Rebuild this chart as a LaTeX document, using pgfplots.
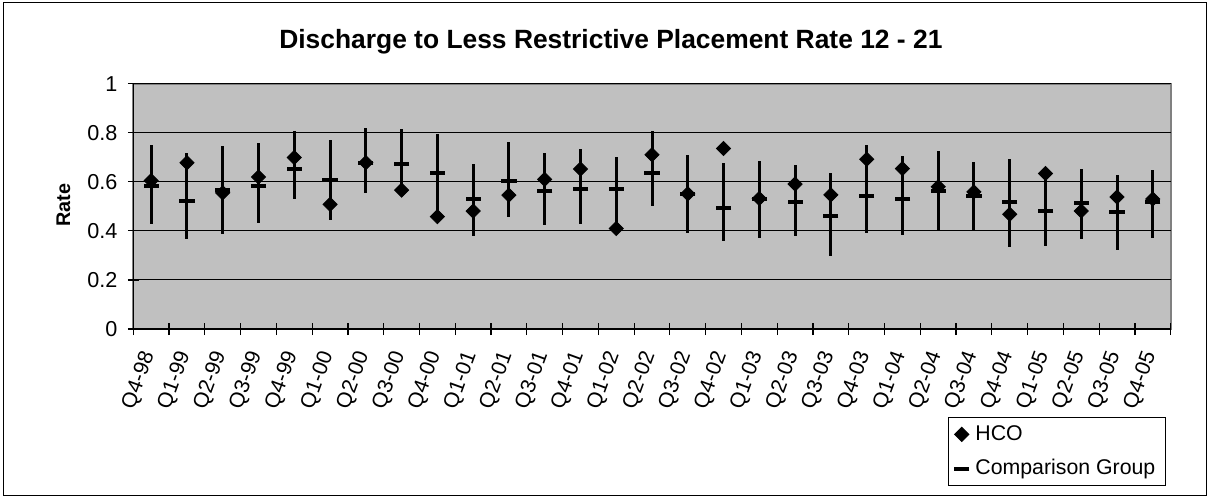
\documentclass[border=0pt]{standalone}
\usepackage{pgfplots}
\pgfplotsset{compat=1.18}
\usepackage{pgfplotstable}
\usepackage{fontspec}
\setmainfont{Liberation Sans}
\definecolor{plotbg}{RGB}{192,192,192}
\definecolor{borderg}{RGB}{128,128,128}
\pgfplotsset{onemark legend/.style={legend image code/.code={\draw[##1] plot coordinates {(3.75pt,0pt)};}}}

\pgfplotstableread{
i hco comp lo hi
0 0.605 0.585 0.430 0.749
1 0.678 0.523 0.367 0.718
2 0.555 0.565 0.386 0.747
3 0.620 0.585 0.433 0.759
4 0.699 0.654 0.532 0.808
5 0.508 0.608 0.444 0.771
6 0.678 0.678 0.553 0.820
7 0.566 0.672 0.550 0.817
8 0.458 0.635 0.460 0.794
9 0.481 0.528 0.379 0.672
10 0.546 0.604 0.455 0.762
11 0.610 0.563 0.422 0.717
12 0.652 0.569 0.429 0.732
13 0.410 0.572 0.420 0.703
14 0.710 0.635 0.501 0.809
15 0.551 0.551 0.390 0.711
16 0.736 0.492 0.358 0.678
17 0.532 0.530 0.369 0.684
18 0.591 0.517 0.380 0.668
19 0.547 0.462 0.297 0.634
20 0.692 0.544 0.390 0.752
21 0.654 0.528 0.382 0.707
22 0.580 0.562 0.403 0.725
23 0.559 0.542 0.401 0.682
24 0.468 0.517 0.335 0.691
25 0.634 0.481 0.339 0.625
26 0.481 0.515 0.368 0.654
27 0.538 0.475 0.323 0.629
28 0.530 0.516 0.369 0.648
}\data

\begin{document}
\begin{tikzpicture}
\path[use as bounding box] (0pt,0pt) rectangle (604.5pt,249pt);
\draw[line width=0.5pt, black] (1.5pt,1.5pt) rectangle (603pt,247.5pt);
\node[font=\fontsize{13.2}{15}\selectfont\bfseries, anchor=base] at (305.45pt,224.85pt) {Discharge to Less Restrictive Placement Rate 12 - 21};
\node[rotate=90, font=\fontsize{9.9}{12}\selectfont\bfseries] at (31.65pt,146.35pt) {Rate};
\begin{axis}[
  at={(66.65pt,84.5pt)}, anchor=south west,
  scale only axis, width=518.7pt, height=122.65pt,
  xmin=-0.5, xmax=28.5, ymin=0, ymax=1,
  ytick={0,0.2,0.4,0.6,0.8,1},
  xtick={0,...,28},
  xticklabels={Q4-98,Q1-99,Q2-99,Q3-99,Q4-99,Q1-00,Q2-00,Q3-00,Q4-00,Q1-01,Q2-01,Q3-01,Q4-01,Q1-02,Q2-02,Q3-02,Q4-02,Q1-03,Q2-03,Q3-03,Q4-03,Q1-04,Q2-04,Q3-04,Q4-04,Q1-05,Q2-05,Q3-05,Q4-05},
  minor xtick={-0.5,0.5,...,28.5},
  major x tick style={draw=none},
  xtick pos=bottom, ytick pos=left,
  tick align=center,
  major tick length=5.5pt,
  minor tick length=6.15pt,
  tick style={black, line width=0.6pt},
  ymajorgrids=true,
  major grid style={black, line width=0.5pt},
  axis background/.style={fill=plotbg, draw=borderg, line width=1.1pt},
  axis line style={draw=none},
  /pgf/number format/assume math mode=true,
  yticklabel style={font=\fontsize{10.8}{12}\selectfont, anchor=east, inner sep=0pt, xshift=-5pt},
  xticklabel style={font=\fontsize{10.6}{12}\selectfont, yshift=-9pt, xshift=-1pt, rotate=70, anchor=east, inner sep=0pt},
  legend style={at={(rel axis cs:0.785,-0.3587)}, anchor=north west, draw=black, line width=0.5pt, fill=white,
    font=\fontsize{10.65}{12}\selectfont, inner xsep=3pt, inner ysep=2pt, row sep=4pt, column sep=1pt},
  legend cell align=left,
  clip=false,
]
\addplot[only marks, mark=square*, mark size=2.5pt, mark options={rotate=45, fill=black, draw=black}, onemark legend]
  table[x=i, y=hco]{\data};
\addlegendentry{HCO}
\addplot[forget plot, draw=none, mark=none,
  error bars/.cd, y dir=both, y explicit, error mark=none,
  error bar style={draw=black, line width=1.5pt, solid}]
  table[x=i, y=comp, y error plus expr=\thisrow{hi}-\thisrow{comp}, y error minus expr=\thisrow{comp}-\thisrow{lo}]{\data};
\addplot[only marks, mark=-, mark size=3.8pt, mark options={line width=2pt, draw=black}, onemark legend]
  table[x=i, y=comp]{\data};
\addlegendentry{Comparison Group}
\draw[black, line width=0.75pt] (rel axis cs:0,1) -- (rel axis cs:0,0) -- (rel axis cs:1,0);
\end{axis}
\end{tikzpicture}
\end{document}
